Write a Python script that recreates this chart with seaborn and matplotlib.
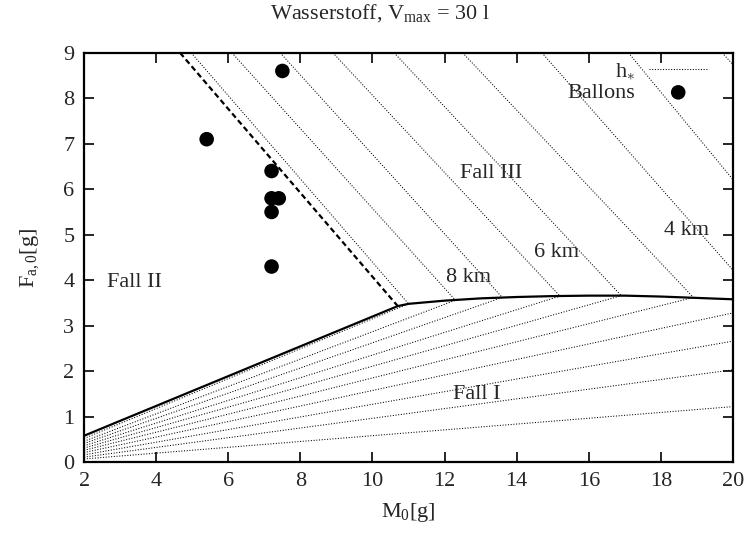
import numpy as np
import pandas as pd
import matplotlib
matplotlib.use('Agg')
import matplotlib.pyplot as plt
import seaborn as sns

# --- Daten ---
# Grenze Fall I / Fall III (durchgezogen)
grenze_m0 = [2.0, 10.7, 11.0, 12.0, 13.0, 14.0, 15.0, 16.0, 17.0, 18.0, 19.0, 20.0]
grenze_fa = [0.58, 3.43, 3.48, 3.55, 3.60, 3.63, 3.65, 3.66, 3.66, 3.64, 3.61, 3.58]

# Grenze Fall II / Fall III (gestrichelt)
strich_m0 = [4.66, 10.7]
strich_fa = [9.0, 3.43]

# h*-Linien im Bereich Fall III: Start oben (F = 9), Endpunkt
h3_m0_oben = [4.97, 6.1, 7.44, 8.9, 10.6, 12.5, 14.7, 17.1, 19.7]
h3_m0_ende = [11.0, 12.3, 13.6, 15.2, 16.9, 18.9, 20.0, 20.0, 20.0]
h3_fa_ende = [3.48, 3.56, 3.62, 3.65, 3.66, 3.62, 4.22, 6.21, 8.74]

# h*-Linien im Bereich Fall I: Start links (M0 = 2), Endpunkt
h1_fa_links = [0.52, 0.46, 0.41, 0.36, 0.31, 0.26, 0.21, 0.16, 0.11, 0.07]
h1_m0_ende = [11.0, 12.3, 13.6, 15.2, 16.9, 18.9, 20.0, 20.0, 20.0, 20.0]
h1_fa_ende = [3.48, 3.56, 3.62, 3.65, 3.66, 3.62, 3.28, 2.66, 2.03, 1.22]

# Ballons
ballon_m0 = [5.4, 7.5, 7.2, 7.2, 7.4, 7.2, 7.2]
ballon_fa = [7.1, 8.6, 6.4, 5.8, 5.8, 5.5, 4.3]

# --- Stil ---
sns.set_theme(style="ticks")
plt.rcParams['font.family'] = ['Liberation Serif', 'DejaVu Serif']
plt.rcParams['mathtext.fontset'] = 'custom'
plt.rcParams['mathtext.rm'] = 'Liberation Serif'
plt.rcParams['mathtext.it'] = 'Liberation Serif:italic'
groesse = 16
plt.rcParams['font.size'] = groesse

fig = plt.figure(figsize=(7.51, 5.33), dpi=100)
ax = fig.add_axes([0.112, 0.133, 0.864, 0.768])

punkt = (0, (1, 1.6))
farbe = 'black'

# h*-Linien Fall III
for i in range(len(h3_m0_oben)):
    df = pd.DataFrame({'m0': [h3_m0_oben[i], h3_m0_ende[i]], 'fa': [9.0, h3_fa_ende[i]]})
    sns.lineplot(data=df, x='m0', y='fa', ax=ax, color=farbe, lw=0.75,
                 linestyle=punkt, sort=False, estimator=None,
                 label='h$_{\\ast}$' if i == 0 else None, legend=False)

# h*-Linien Fall I
for i in range(len(h1_fa_links)):
    df = pd.DataFrame({'m0': [2.0, h1_m0_ende[i]], 'fa': [h1_fa_links[i], h1_fa_ende[i]]})
    sns.lineplot(data=df, x='m0', y='fa', ax=ax, color=farbe, lw=0.75,
                 linestyle=punkt, sort=False, estimator=None, legend=False)

# Grenzlinien
sns.lineplot(x=grenze_m0, y=grenze_fa, ax=ax, color=farbe, lw=1.6, sort=False, estimator=None)
sns.lineplot(x=strich_m0, y=strich_fa, ax=ax, color=farbe, lw=1.6,
             linestyle=(0, (2.5, 1.5)), sort=False, estimator=None)

# Ballons
sns.scatterplot(x=ballon_m0, y=ballon_fa, ax=ax, color=farbe, s=110,
                edgecolor='none', label='Ballons', legend=False, zorder=5)

# Beschriftungen
ax.text(3.4, 3.94, 'Fall II', ha='center', va='center')
ax.text(13.3, 6.34, 'Fall III', ha='center', va='center')
ax.text(12.9, 1.48, 'Fall I', ha='center', va='center')
ax.text(12.65, 4.05, '8 km', ha='center', va='center')
ax.text(15.1, 4.6, '6 km', ha='center', va='center')
ax.text(18.7, 5.1, '4 km', ha='center', va='center')

ax.set_xlim(2, 20)
ax.set_ylim(0, 9)
ax.set_xticks(np.arange(2, 21, 2))
ax.set_yticks(np.arange(0, 10, 1))
ax.tick_params(direction='in', length=7, width=1.4, top=True, right=True,
               labelsize=groesse, pad=7)
for s in ax.spines.values():
    s.set_linewidth(1.6)
    s.set_color('black')

ax.set_xlabel('M$_{\\rm 0}$[g]', fontsize=groesse, labelpad=7)
ax.set_ylabel('F$_{\\rm a,0}$[g]', fontsize=groesse, labelpad=16)
fig.text(0.506, 0.975, 'Wasserstoff, V$_{\\rm max}$ = 30 l', ha='center', va='center', fontsize=groesse)

handles, labels = ax.get_legend_handles_labels()
ax.legend(handles, labels, loc='upper right', bbox_to_anchor=(0.961, 0.98),
          frameon=False, markerfirst=False, handlelength=2.65, handletextpad=0.6,
          fontsize=groesse, borderaxespad=0, borderpad=0, labelspacing=0.05)

fig.savefig('out.png', dpi=100)
